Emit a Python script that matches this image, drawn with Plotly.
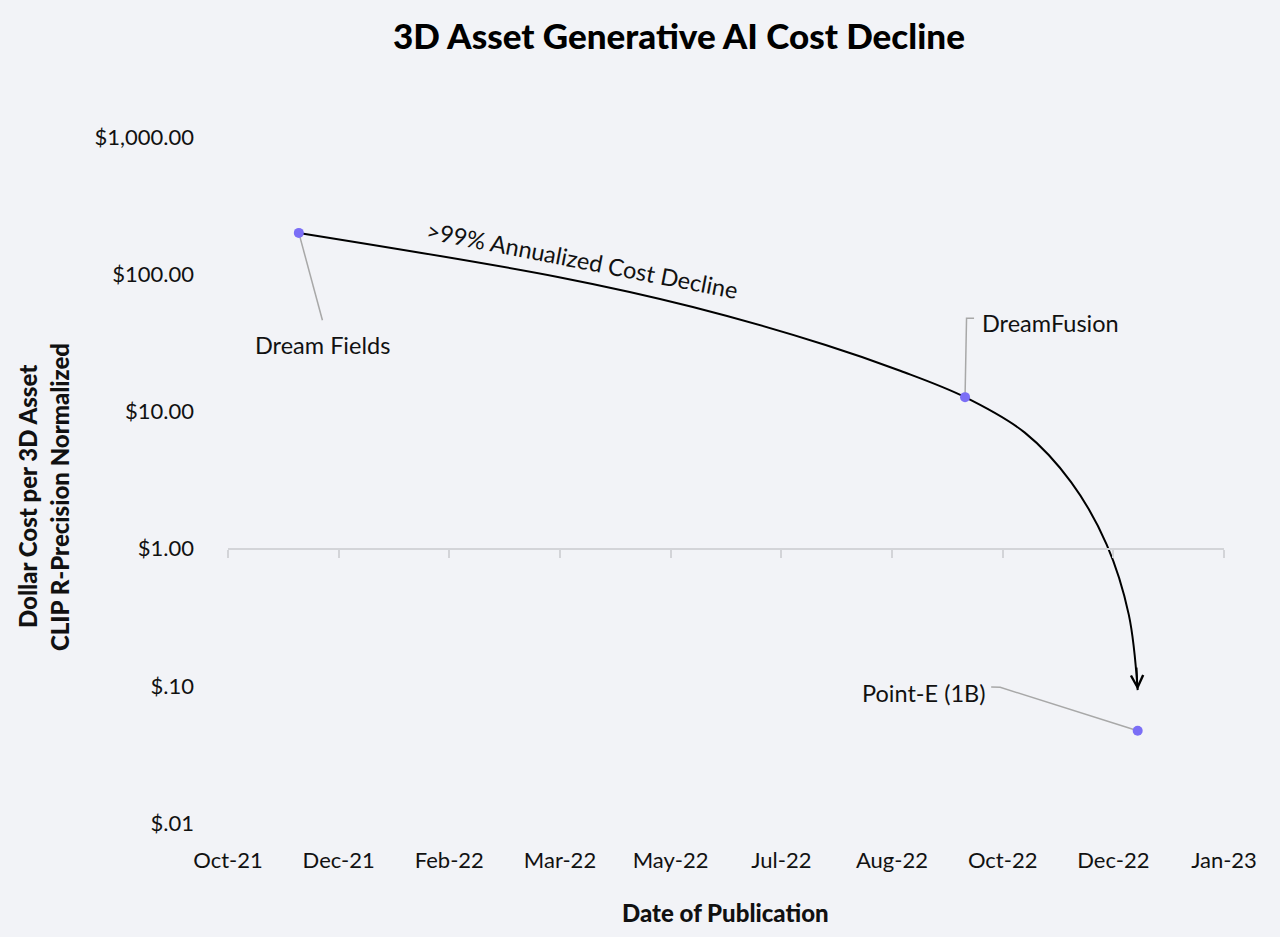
import math
import plotly.graph_objects as go

# ---- data ----
model_names = ["Dream Fields", "DreamFusion", "Point-E (1B)"]
model_dates = ["2021-12-02", "2022-09-29", "2022-12-16"]
model_costs = [200.0, 12.7, 0.047]

# trend arrow (date, cost)
trend_dates = ["2021-12-02", "2022-03-29", "2022-05-29", "2022-07-28", "2022-08-31",
               "2022-09-29", "2022-10-26", "2022-11-16", "2022-12-02", "2022-12-12",
               "2022-12-16"]
trend_costs = [200.0, 95.5, 57.7, 30.5, 19.7, 12.7, 7.0, 3.04, 1.07, 0.329, 0.093]

x_tick_dates = ["2021-10-31", "2021-12-20", "2022-02-08", "2022-03-30", "2022-05-19",
                "2022-07-08", "2022-08-27", "2022-10-16", "2022-12-05", "2023-01-24"]
x_tick_labels = ["Oct-21", "Dec-21", "Feb-22", "Mar-22", "May-22", "Jul-22",
                 "Aug-22", "Oct-22", "Dec-22", "Jan-23"]
y_tick_vals = [0.01, 0.1, 1, 10, 100, 1000]
y_tick_labels = ["$.01", "$.10", "$1.00", "$10.00", "$100.00", "$1,000.00"]

trend_label = ">99% Annualized Cost Decline"
trend_label_date = "2022-04-09"
trend_label_cost = 127.0

# ---- style ----
BG = "#F2F3F7"
FONT = "Lato"
INK = "#111111"
LEADER = "#A8A8A8"
AXIS_GRAY = "#D3D4D8"
DOT = "#7B6EF6"

fig = go.Figure()

fig.add_trace(go.Scatter(
    x=trend_dates, y=trend_costs, mode="lines",
    line=dict(color="#000000", width=2, shape="spline", smoothing=1.0),
    hoverinfo="skip", showlegend=False,
))

fig.add_trace(go.Scatter(
    x=model_dates, y=model_costs, mode="markers",
    marker=dict(color=DOT, size=10),
    text=model_names, showlegend=False,
))

# invisible trace for the crossing axis at $1.00
fig.add_trace(go.Scatter(
    x=[x_tick_dates[0], x_tick_dates[-1]], y=[1, 1], xaxis="x2", mode="lines",
    line=dict(width=0), hoverinfo="skip", showlegend=False,
))

annotations = []
shapes = []

label_cfg = [
    dict(xanchor="center", xshift=23.5, yshift=-112, path="M0,0 L23.6,-87.3"),
    dict(xanchor="left", xshift=15, yshift=74, path="M0,0 L1.5,79 L9,79"),
    dict(xanchor="right", xshift=-150, yshift=38, path="M0,0 L-137.5,43.5 L-146.5,43.7"),
]
for name, d, c, cfg in zip(model_names, model_dates, model_costs, label_cfg):
    annotations.append(dict(
        x=d, y=math.log10(c), xref="x", yref="y", text=name, showarrow=False,
        xanchor=cfg["xanchor"], yanchor="middle", xshift=cfg["xshift"], yshift=cfg["yshift"],
        font=dict(family=FONT, size=23.5, color=INK),
    ))
    shapes.append(dict(
        type="path", xref="x", yref="y", xsizemode="pixel", ysizemode="pixel",
        xanchor=d, yanchor=c, path=cfg["path"],
        line=dict(color=LEADER, width=1.5), layer="below",
    ))

# arrow head at the end of the trend curve
annotations.append(dict(
    x=trend_dates[-1], y=math.log10(trend_costs[-1]), xref="x", yref="y",
    text="", showarrow=True, ax=-1, ay=-24, axref="pixel", ayref="pixel",
    arrowhead=5, arrowsize=1.6, arrowwidth=1.5, arrowcolor="#000000",
))

# trend label
annotations.append(dict(
    x=trend_label_date, y=math.log10(trend_label_cost), xref="x", yref="y",
    text=trend_label, showarrow=False, textangle=11,
    font=dict(family=FONT, size=23.5, color=INK),
))

# axis titles
L, R, T, B = 228, 56, 137, 114
W, H = 1280, 937
pw, ph = W - L - R, H - T - B

def px_to_paper(px, py):
    return (px - L) / pw, (H - B - py) / ph

for text, cx in [("Dollar Cost per 3D Asset", 28), ("CLIP R-Precision Normalized", 60)]:
    xp, yp = px_to_paper(cx, 497)
    annotations.append(dict(
        x=xp, y=yp, xref="paper", yref="paper", text=text, showarrow=False,
        textangle=-90, xanchor="center", yanchor="middle",
        font=dict(family=FONT, size=24, color=INK, weight=900),
    ))

xp, yp = px_to_paper(725, 912)
annotations.append(dict(
    x=xp, y=yp, xref="paper", yref="paper", text="Date of Publication",
    showarrow=False, xanchor="center", yanchor="middle",
    font=dict(family=FONT, size=24, color=INK, weight=900),
))

fig.update_layout(
    width=W, height=H,
    margin=dict(l=L, r=R, t=T, b=B),
    paper_bgcolor=BG, plot_bgcolor=BG,
    title=dict(text="3D Asset Generative AI Cost Decline", x=679 / W, xanchor="center",
               y=1 - 37 / H, yanchor="middle",
               font=dict(family=FONT, size=35, color="#000000", weight=900)),
    xaxis=dict(
        type="date", range=[x_tick_dates[0], x_tick_dates[-1]],
        tickmode="array", tickvals=x_tick_dates, ticktext=x_tick_labels,
        showgrid=False, zeroline=False, showline=False, ticks="",
        ticklabelstandoff=22,
        tickfont=dict(family=FONT, size=22, color=INK),
    ),
    xaxis2=dict(
        type="date", range=[x_tick_dates[0], x_tick_dates[-1]], overlaying="x",
        anchor="free", position=0.4, side="bottom",
        tickmode="array", tickvals=x_tick_dates, showticklabels=False,
        showgrid=False, zeroline=False, showline=True, linecolor=AXIS_GRAY, linewidth=2,
        ticks="outside", ticklen=8, tickwidth=2, tickcolor=AXIS_GRAY,
    ),
    yaxis=dict(
        type="log", range=[-2, 3],
        tickmode="array", tickvals=y_tick_vals, ticktext=y_tick_labels,
        showgrid=False, zeroline=False, showline=False, ticks="",
        ticklabelstandoff=33,
        tickfont=dict(family=FONT, size=22, color=INK),
    ),
    annotations=annotations,
    shapes=shapes,
    showlegend=False,
)

fig.write_html(
    "out.html",
    config={"displayModeBar": False},
    post_script="document.body.style.margin='0';document.body.style.background='#F2F3F7';",
)
